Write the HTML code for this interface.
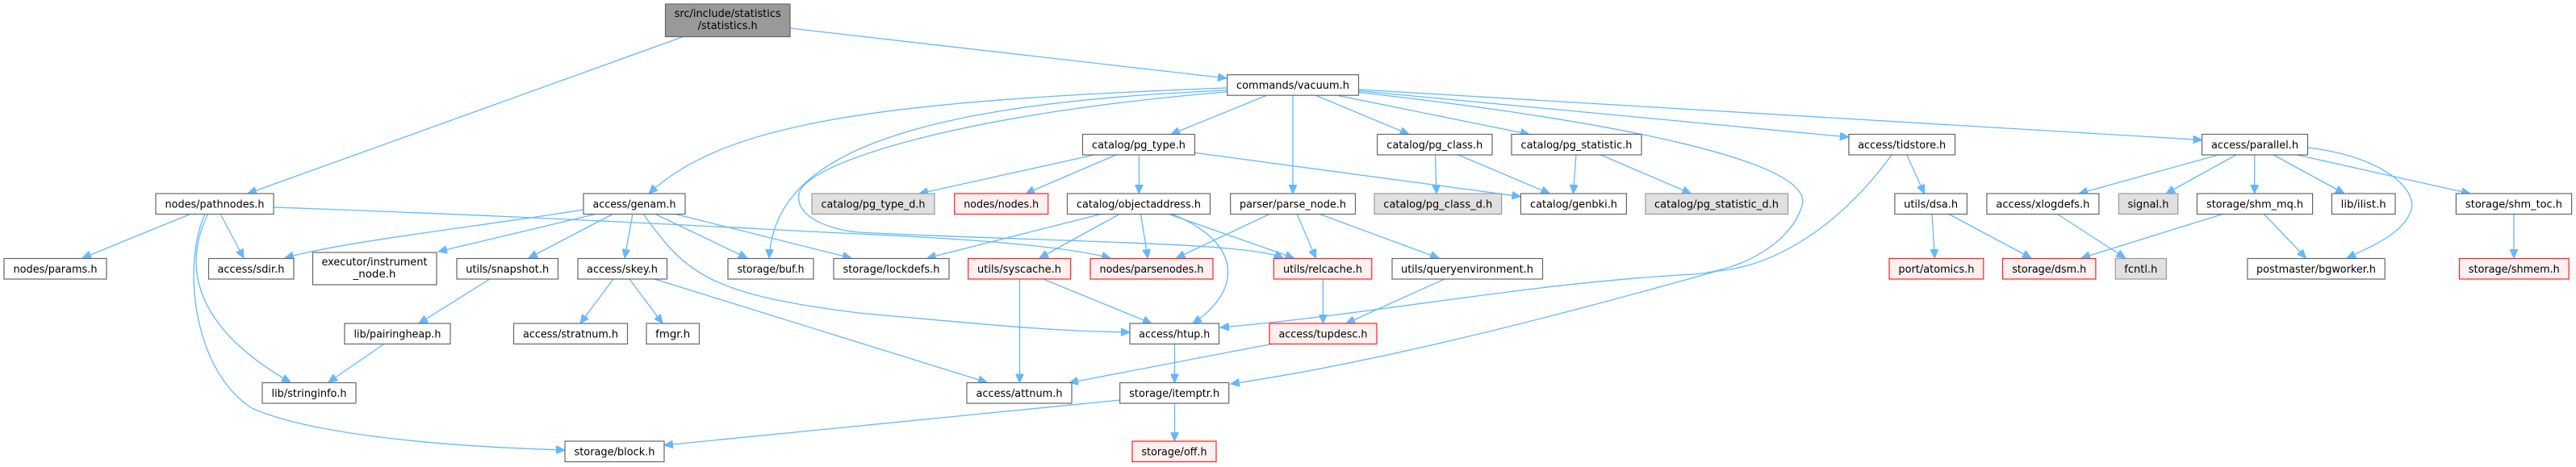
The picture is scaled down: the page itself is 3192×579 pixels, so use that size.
<!DOCTYPE html>
<html><head><meta charset="utf-8"><style>
html,body{margin:0;padding:0;background:#fff;}
svg{display:block;}
text{font-family:"DejaVu Sans","Liberation Sans",sans-serif;font-size:13px;fill:#000;text-anchor:middle;}
.n{fill:#fff;stroke:#666;stroke-width:1.2;}
.r{fill:#fff0f0;stroke:#ff2020;stroke-width:1.2;}
.g{fill:#e0e0e0;stroke:#999;stroke-width:1.2;}
.t{fill:#999;stroke:#666;stroke-width:1.2;}
path{fill:none;stroke:#63b8ff;stroke-width:1.3;}
</style></head><body>
<svg width="3192" height="579" viewBox="0 0 3192 579" xmlns="http://www.w3.org/2000/svg">
<defs><marker id="a" markerUnits="userSpaceOnUse" markerWidth="12" markerHeight="10" refX="11" refY="5" orient="auto"><path d="M0,0 L11,5 L0,10 Z" style="fill:#63b8ff;stroke:#63b8ff;stroke-width:1"/></marker></defs>
<g marker-end="url(#a)">
<path d="M848,45 L307,240"/>
<path d="M979,35 L1520,97"/>
<path d="M1520,109 C1100,125 900,150 804,240"/>
<path d="M1520,112 C1100,130 960,200 953,320"/>
<path d="M1520,114 C1200,140 1000,200 990,240 C985,270 1030,285 1064,288 C1300,300 1550,300 1590,320"/>
<path d="M339,257 C700,270 900,282 1064,290 C1200,296 1320,305 1376,320"/>
<path d="M723,260 C600,280 420,300 353,320"/>
<path d="M273,265 L302,320"/>
<path d="M237,265 L102,320"/>
<path d="M258,265 C230,320 230,400 360,474"/>
<path d="M254,265 C225,330 240,460 312,506 C400,545 600,555 700,558"/>
<path d="M740,265 L543,312"/>
<path d="M760,265 L655,320"/>
<path d="M784,265 L774,320"/>
<path d="M811,265 L926,320"/>
<path d="M835,265 L1055,320"/>
<path d="M797,265 C850,340 880,365 1064,388 C1250,405 1300,410 1400,412"/>
<path d="M607,346 L519,401"/>
<path d="M475,427 L407,474"/>
<path d="M760,346 L719,401"/>
<path d="M780,346 L821,401"/>
<path d="M811,346 L1223,474"/>
<path d="M1388,496 L823,552"/>
<path d="M1569,118.5 L1451,166.5"/>
<path d="M1602,118.5 L1602,240"/>
<path d="M1631,118.5 L1746,166.5"/>
<path d="M1658,118.5 L1895,166.5"/>
<path d="M1683.5,112.6 L2290.9,170"/>
<path d="M1683.5,111 L2728.5,173.5"/>
<path d="M1683.5,114.5 C2000,150 2250,200 2233,255 C2220,300 2160,335 2100,340 C1900,350 1700,390 1512,406"/>
<path d="M2344,192 C2280,280 2200,330 2128,336 C1900,400 1700,450 1525,476"/>
<path d="M1356,192 L1139,240"/>
<path d="M1383,192 L1271,240"/>
<path d="M1411.4,192 L1411.4,240"/>
<path d="M1480.6,189.4 L1884.4,243.7"/>
<path d="M1778.5,192 L1780,240"/>
<path d="M1807,192 L1920.4,240"/>
<path d="M1953,192 L1949.5,240"/>
<path d="M1983.5,192 L2095.4,240"/>
<path d="M1366,265 L1148.8,320"/>
<path d="M1388,265 L1288,320"/>
<path d="M1413.5,265 L1422.3,320"/>
<path d="M1447,265 L1603.5,320"/>
<path d="M1451,265 C1540,300 1540,360 1478,401"/>
<path d="M1574,265 L1457.6,320"/>
<path d="M1607,265 L1630.6,320"/>
<path d="M1634,265 L1783,320"/>
<path d="M1263.5,346 L1263.5,474.5"/>
<path d="M1292.7,346 L1427,401"/>
<path d="M1639.4,346 L1639.4,401"/>
<path d="M1790,346 L1668,401"/>
<path d="M1455.5,426.5 L1455.5,474.5"/>
<path d="M1576,426.5 L1325,474.5"/>
<path d="M1455.5,500 L1455.5,547"/>
<path d="M2362.8,192 L2384.5,240"/>
<path d="M2394,265 L2397.4,320"/>
<path d="M2414,265 L2517,320"/>
<path d="M2749,192 L2576,240"/>
<path d="M2771,192 L2684,240"/>
<path d="M2793.7,192 L2793.7,240"/>
<path d="M2817,192 L2905,240"/>
<path d="M2846,192 L3061,240"/>
<path d="M2859.5,183 C2960,195 3000,240 2986,265 C2975,290 2940,305 2908,320"/>
<path d="M2548.7,265 L2633.5,320"/>
<path d="M2755.7,265 L2579,320"/>
<path d="M2805,265 L2857.5,320"/>
<path d="M3115,265 L3115,320"/>
</g>

<rect class="t" x="824.5" y="5" width="154.5" height="40.5"/>
<text x="901.7" y="21" textLength="132" lengthAdjust="spacingAndGlyphs">src/include/statistics</text>
<text x="901.7" y="36" textLength="74" lengthAdjust="spacingAndGlyphs">/statistics.h</text>

<rect class="n" x="1520.7" y="92.7" width="162.8" height="25.5"/><text x="1602" y="110" textLength="140" lengthAdjust="spacingAndGlyphs">commands/vacuum.h</text>

<rect class="n" x="1341.5" y="166.5" width="139" height="25.5"/><text x="1411" y="184" textLength="116" lengthAdjust="spacingAndGlyphs">catalog/pg_type.h</text>
<rect class="n" x="1706.6" y="166.5" width="142.4" height="25.5"/><text x="1777.8" y="184" textLength="119" lengthAdjust="spacingAndGlyphs">catalog/pg_class.h</text>
<rect class="n" x="1873" y="166.5" width="161" height="25.5"/><text x="1953.5" y="184" textLength="138" lengthAdjust="spacingAndGlyphs">catalog/pg_statistic.h</text>
<rect class="n" x="2290.9" y="166.5" width="131.6" height="25.5"/><text x="2356.7" y="184" textLength="109" lengthAdjust="spacingAndGlyphs">access/tidstore.h</text>
<rect class="n" x="2728.5" y="166.5" width="131" height="25.5"/><text x="2794" y="184" textLength="108" lengthAdjust="spacingAndGlyphs">access/parallel.h</text>

<rect class="n" x="193" y="240" width="146" height="25.5"/><text x="266" y="257.5" textLength="123" lengthAdjust="spacingAndGlyphs">nodes/pathnodes.h</text>
<rect class="n" x="723" y="240" width="126" height="25.5"/><text x="786" y="257.5" textLength="103" lengthAdjust="spacingAndGlyphs">access/genam.h</text>
<rect class="g" x="1006" y="240" width="152" height="25.5"/><text x="1082" y="257.5" textLength="129" lengthAdjust="spacingAndGlyphs">catalog/pg_type_d.h</text>
<rect class="r" x="1182.7" y="240" width="116" height="25.5"/><text x="1240.7" y="257.5" textLength="93" lengthAdjust="spacingAndGlyphs">nodes/nodes.h</text>
<rect class="n" x="1322.5" y="240" width="177" height="25.5"/><text x="1411" y="257.5" textLength="154" lengthAdjust="spacingAndGlyphs">catalog/objectaddress.h</text>
<rect class="n" x="1524.7" y="240" width="154.8" height="25.5"/><text x="1602" y="257.5" textLength="132" lengthAdjust="spacingAndGlyphs">parser/parse_node.h</text>
<rect class="g" x="1703" y="240" width="157.6" height="25.5"/><text x="1781.8" y="257.5" textLength="135" lengthAdjust="spacingAndGlyphs">catalog/pg_class_d.h</text>
<rect class="n" x="1884.4" y="240" width="131" height="25.5"/><text x="1950" y="257.5" textLength="108" lengthAdjust="spacingAndGlyphs">catalog/genbki.h</text>
<rect class="g" x="2039" y="240" width="176.5" height="25.5"/><text x="2127" y="257.5" textLength="154" lengthAdjust="spacingAndGlyphs">catalog/pg_statistic_d.h</text>
<rect class="n" x="2347.9" y="240" width="89.5" height="25.5"/><text x="2392.6" y="257.5" textLength="67" lengthAdjust="spacingAndGlyphs">utils/dsa.h</text>
<rect class="n" x="2461.9" y="240" width="139" height="25.5"/><text x="2531.4" y="257.5" textLength="116" lengthAdjust="spacingAndGlyphs">access/xlogdefs.h</text>
<rect class="g" x="2625.4" y="240" width="73.3" height="25.5"/><text x="2662" y="257.5" textLength="51" lengthAdjust="spacingAndGlyphs">signal.h</text>
<rect class="n" x="2722.4" y="240" width="143.2" height="25.5"/><text x="2794" y="257.5" textLength="120" lengthAdjust="spacingAndGlyphs">storage/shm_mq.h</text>
<rect class="n" x="2889.4" y="240" width="78.6" height="25.5"/><text x="2928.7" y="257.5" textLength="56" lengthAdjust="spacingAndGlyphs">lib/ilist.h</text>
<rect class="n" x="3043.4" y="240" width="143.2" height="25.5"/><text x="3115" y="257.5" textLength="120" lengthAdjust="spacingAndGlyphs">storage/shm_toc.h</text>

<rect class="n" x="5" y="320.5" width="127" height="25.5"/><text x="68.5" y="338" textLength="104" lengthAdjust="spacingAndGlyphs">nodes/params.h</text>
<rect class="n" x="258.5" y="320.5" width="105.5" height="25.5"/><text x="311" y="338" textLength="83" lengthAdjust="spacingAndGlyphs">access/sdir.h</text>
<rect class="n" x="387.5" y="313" width="153.5" height="40"/><text x="464" y="329" textLength="131" lengthAdjust="spacingAndGlyphs">executor/instrument</text><text x="464" y="344" textLength="53" lengthAdjust="spacingAndGlyphs">_node.h</text>
<rect class="n" x="566" y="320.5" width="125.5" height="25.5"/><text x="628.7" y="338" textLength="103" lengthAdjust="spacingAndGlyphs">utils/snapshot.h</text>
<rect class="n" x="716" y="320.5" width="110.5" height="25.5"/><text x="771" y="338" textLength="88" lengthAdjust="spacingAndGlyphs">access/skey.h</text>
<rect class="n" x="902" y="320.5" width="106" height="25.5"/><text x="955" y="338" textLength="83" lengthAdjust="spacingAndGlyphs">storage/buf.h</text>
<rect class="n" x="1033" y="320.5" width="143" height="25.5"/><text x="1104.5" y="338" textLength="120" lengthAdjust="spacingAndGlyphs">storage/lockdefs.h</text>
<rect class="r" x="1199.7" y="320.5" width="127" height="25.5"/><text x="1263" y="338" textLength="104" lengthAdjust="spacingAndGlyphs">utils/syscache.h</text>
<rect class="r" x="1351" y="320.5" width="152" height="25.5"/><text x="1427" y="338" textLength="129" lengthAdjust="spacingAndGlyphs">nodes/parsenodes.h</text>
<rect class="r" x="1578.4" y="320.5" width="121.4" height="25.5"/><text x="1639" y="338" textLength="98" lengthAdjust="spacingAndGlyphs">utils/relcache.h</text>
<rect class="n" x="1725" y="320.5" width="186.5" height="25.5"/><text x="1818" y="338" textLength="164" lengthAdjust="spacingAndGlyphs">utils/queryenvironment.h</text>
<rect class="r" x="2341" y="320.5" width="116.8" height="25.5"/><text x="2399.4" y="338" textLength="94" lengthAdjust="spacingAndGlyphs">port/atomics.h</text>
<rect class="r" x="2481.5" y="320.5" width="115.4" height="25.5"/><text x="2539.2" y="338" textLength="92" lengthAdjust="spacingAndGlyphs">storage/dsm.h</text>
<rect class="g" x="2621.3" y="320.5" width="63.1" height="25.5"/><text x="2652.8" y="338" textLength="41" lengthAdjust="spacingAndGlyphs">fcntl.h</text>
<rect class="n" x="2784.9" y="320.5" width="170.3" height="25.5"/><text x="2870" y="338" textLength="148" lengthAdjust="spacingAndGlyphs">postmaster/bgworker.h</text>
<rect class="r" x="3047.5" y="320.5" width="135.7" height="25.5"/><text x="3115.3" y="338" textLength="113" lengthAdjust="spacingAndGlyphs">storage/shmem.h</text>

<rect class="n" x="427" y="401" width="131" height="25.5"/><text x="492.5" y="418.5" textLength="108" lengthAdjust="spacingAndGlyphs">lib/pairingheap.h</text>
<rect class="n" x="636.5" y="401" width="141" height="25.5"/><text x="707" y="418.5" textLength="118" lengthAdjust="spacingAndGlyphs">access/stratnum.h</text>
<rect class="n" x="801" y="401" width="65.5" height="25.5"/><text x="833.7" y="418.5" textLength="43" lengthAdjust="spacingAndGlyphs">fmgr.h</text>
<rect class="n" x="1400" y="401" width="110.5" height="25.5"/><text x="1455.3" y="418.5" textLength="88" lengthAdjust="spacingAndGlyphs">access/htup.h</text>
<rect class="r" x="1573" y="401" width="133" height="25.5"/><text x="1639.5" y="418.5" textLength="110" lengthAdjust="spacingAndGlyphs">access/tupdesc.h</text>

<rect class="n" x="325" y="474.5" width="116" height="25.5"/><text x="383" y="492" textLength="93" lengthAdjust="spacingAndGlyphs">lib/stringinfo.h</text>
<rect class="n" x="1198" y="474.5" width="130" height="25.5"/><text x="1263" y="492" textLength="107" lengthAdjust="spacingAndGlyphs">access/attnum.h</text>
<rect class="n" x="1387.7" y="474.5" width="135" height="25.5"/><text x="1455.2" y="492" textLength="112" lengthAdjust="spacingAndGlyphs">storage/itemptr.h</text>

<rect class="n" x="700" y="547" width="123" height="25.5"/><text x="761.5" y="564.5" textLength="100" lengthAdjust="spacingAndGlyphs">storage/block.h</text>
<rect class="r" x="1403" y="547" width="104" height="25.5"/><text x="1455" y="564.5" textLength="81" lengthAdjust="spacingAndGlyphs">storage/off.h</text>
</svg>
</body></html>
